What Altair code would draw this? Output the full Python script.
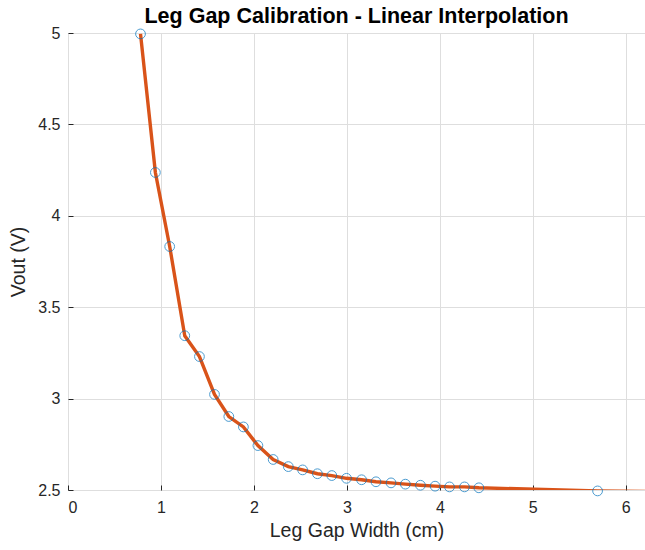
import altair as alt
import pandas as pd

gap_cm = [0.78, 0.94, 1.094, 1.256, 1.414, 1.576, 1.73, 1.887, 2.043, 2.207,
          2.37, 2.524, 2.683, 2.838, 2.996, 3.158, 3.313, 3.475, 3.629, 3.791,
          3.949, 4.104, 4.265, 4.42, 5.697]
vout = [4.995, 4.237, 3.832, 3.344, 3.23, 3.023, 2.902, 2.845, 2.743, 2.667,
        2.628, 2.61, 2.589, 2.579, 2.564, 2.556, 2.545, 2.539, 2.532, 2.526,
        2.521, 2.517, 2.517, 2.512, 2.495]
# interpolated curve continues to the plot edge
line_x = gap_cm + [6.21]
line_y = vout + [2.492]
x_ticks = [0, 1, 2, 3, 4, 5, 6]
y_ticks = [2.5, 3, 3.5, 4, 4.5, 5]

pts = pd.DataFrame({"x": gap_cm, "y": vout})
ln = pd.DataFrame({"x": line_x, "y": line_y})

FONT = "Liberation Sans"
xs = alt.Scale(domain=[0, 6.207], nice=False, zero=False)
ys = alt.Scale(domain=[2.5, 5], nice=False, zero=False)

xax = alt.Axis(title="Leg Gap Width (cm)", values=x_ticks, format="d", orient="bottom",
               grid=True, gridColor="#dedede", ticks=False, domain=False,
               labelFontSize=16, titleFontSize=19.5, labelColor="#262626",
               titleColor="#262626", labelFont=FONT, titleFont=FONT,
               titleFontWeight="normal", labelPadding=9, titlePadding=6)
yax = alt.Axis(title="Vout (V)", values=y_ticks, format="~g", orient="left",
               grid=True, gridColor="#dedede", ticks=False, domain=False,
               labelFontSize=16, titleFontSize=19.5, labelColor="#262626",
               titleColor="#262626", labelFont=FONT, titleFont=FONT,
               titleFontWeight="normal", labelPadding=8, titlePadding=9)
# inward-pointing tick marks
xtick_ax = alt.Axis(title=None, values=x_ticks, orient="bottom", offset=-5, tickSize=5,
                    tickColor="#262626", labels=False, domain=False, grid=False)
ytick_ax = alt.Axis(title=None, values=y_ticks, orient="left", offset=-5, tickSize=5,
                    tickColor="#262626", labels=False, domain=False, grid=False)

line = alt.Chart(ln).mark_line(color="#D95319", strokeWidth=3.4, clip=True).encode(
    x=alt.X("x:Q", scale=xs, axis=xax),
    y=alt.Y("y:Q", scale=ys, axis=yax),
)
circles = alt.Chart(pts).mark_point(shape="circle", filled=False, color="#0072BD",
                                     size=95, strokeWidth=1, clip=False).encode(
    x=alt.X("x:Q", scale=xs, axis=xtick_ax),
    y=alt.Y("y:Q", scale=ys, axis=ytick_ax),
)

chart = alt.layer(line, circles).resolve_axis(x="independent", y="independent").properties(
    width=577, height=457,
    title=alt.TitleParams("Leg Gap Calibration - Linear Interpolation", font=FONT,
                          fontSize=21.5, fontWeight="bold", color="#000000",
                          anchor="middle", offset=-2),
    autosize=alt.AutoSizeParams(type="none"),
    padding={"left": 68, "top": 33, "right": 0, "bottom": 60},
).configure_view(stroke="#262626", strokeWidth=1).configure(background="white")

chart.save("out.html", embed_options={"renderer": "svg", "actions": False})
